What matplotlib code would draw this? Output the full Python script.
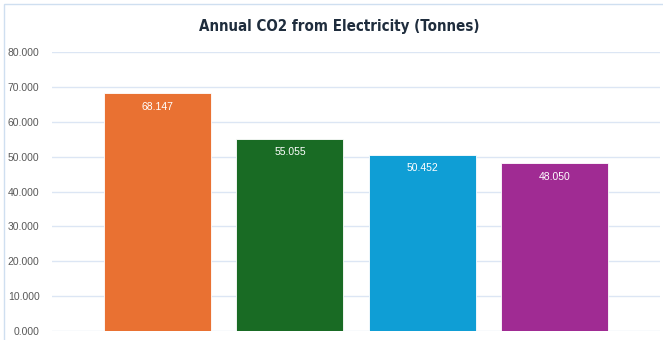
import matplotlib.pyplot as plt
from matplotlib.patches import Rectangle

labels = ['A', 'B', 'C', 'D']
values = [68.147, 55.055, 50.452, 48.050]
colors = ['#E97132', '#196B24', '#0F9ED5', '#A02B93']
yticks = [0, 10, 20, 30, 40, 50, 60, 70, 80]

plt.rcParams['font.family'] = ['Liberation Sans', 'DejaVu Sans']

fig = plt.figure(figsize=(6.63, 3.4), dpi=100)
ax = fig.add_axes([52 / 663, 9 / 340, 608 / 663, 279 / 340])

x = range(len(values))
ax.bar(x, values, width=0.81, color=colors, edgecolor='white', linewidth=0.6, zorder=2)
for i, v in enumerate(values):
    ax.annotate(f'{v:.3f}', (i, v), xytext=(0, -9.5), textcoords='offset points',
                ha='center', va='center', color='white', fontsize=7.5)

ax.set_xlim(-0.8, 3.8)
ax.set_ylim(0, 80)
ax.set_yticks(yticks)
ax.set_yticklabels([f'{t:.3f}' for t in yticks], color='#595959', fontsize=7.5)
ax.set_xticks([])
ax.grid(axis='y', color='#dce6f4', linewidth=1, zorder=0)
ax.tick_params(axis='y', length=0, pad=9)
for s in ax.spines.values():
    s.set_visible(False)

fig.text(339 / 663, 1 - 27 / 340, 'Annual CO2 from Electricity (Tonnes)',
         ha='center', va='center', fontsize=10.8, fontweight='bold', color='#1f2d3d',
         family='DejaVu Sans', fontstretch='condensed')

# thin frame around the chart area
fig.patches.append(Rectangle((4 / 663, -0.1), 1.1, (336 / 340) + 0.1,
                             transform=fig.transFigure, fill=False,
                             edgecolor='#cfdff0', linewidth=1))

fig.savefig('out.png', dpi=100)
